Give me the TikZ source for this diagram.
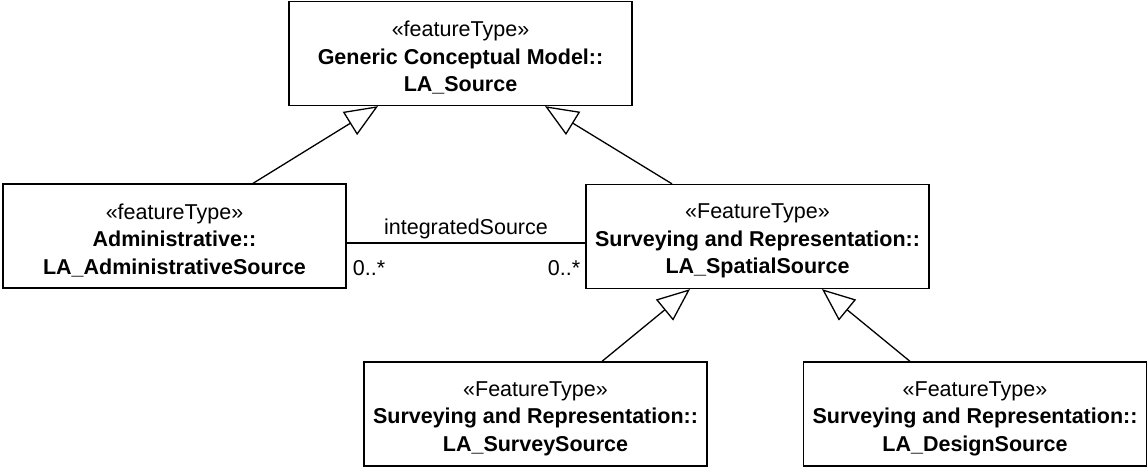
\documentclass[tikz,border=0pt]{standalone}
\usepackage{fontspec}
\setmainfont{Liberation Sans}
\usetikzlibrary{arrows.meta,calc}
\newcommand{\tstrut}{\rule{0pt}{24pt}}
\begin{document}
\begin{tikzpicture}[x=1pt,y=-1pt,
  cls/.style={draw,line width=1.3pt,inner sep=0pt,minimum width=343pt,minimum height=104pt,
    align=center,font=\fontsize{21.5}{27.5}\selectfont},
  gen/.style={line width=1.3pt,-{Triangle[open,length=33pt,width=27pt,line width=1.3pt]}},
  assoc/.style={line width=1.3pt},
  lbl/.style={inner sep=0pt,font=\fontsize{21.5}{25}\selectfont}]
\useasboundingbox (0,0) rectangle (1148,468);
\node[cls] (top) at (460.5,53.5) {\tstrut«featureType»\\\textbf{Generic Conceptual Model::}\\\textbf{LA\_Source}};
\node[cls] (admin) at (174.5,236) {\tstrut«featureType»\\\textbf{Administrative::}\\\textbf{LA\_AdministrativeSource}};
\node[cls] (spatial) at (757.5,236.5) {\tstrut«FeatureType»\\\textbf{Surveying and Representation::}\\\textbf{LA\_SpatialSource}};
\node[cls] (survey) at (535.5,414) {\tstrut«FeatureType»\\\textbf{Surveying and Representation::}\\\textbf{LA\_SurveySource}};
\node[cls] (design) at (975,414) {\tstrut«FeatureType»\\\textbf{Surveying and Representation::}\\\textbf{LA\_DesignSource}};
\draw[gen] ($(admin.north)+(78.5,0)$) -- ($(top.south)+(-82.5,0)$);
\draw[gen] ($(spatial.north)+(-85.5,0)$) -- ($(top.south)+(84.5,0)$);
\draw[gen] ($(survey.north)+(66.5,0)$) -- ($(spatial.south)+(-67.5,0)$);
\draw[gen] ($(design.north)+(-65,0)$) -- ($(spatial.south)+(64.5,0)$);
\draw[assoc] ($(admin.east)+(0,7)$) -- node[lbl,above=3pt] (assocname) {integratedSource} ($(spatial.west)+(0,6.5)$);
\node[lbl,anchor=west] (m1) at ($(admin.east)+(6,32)$) {0..*};
\node[lbl,anchor=east] (m2) at ($(spatial.west)+(-5,31.5)$) {0..*};
\end{tikzpicture}
\end{document}
